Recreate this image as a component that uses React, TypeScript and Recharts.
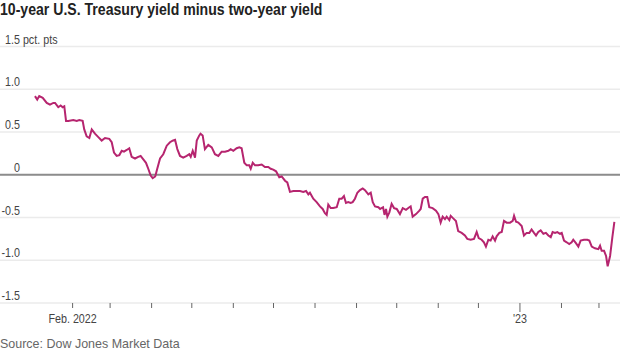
import { LineChart, Line, XAxis, YAxis, CartesianGrid, ReferenceLine } from "recharts";

// days since 2022-01-01 for each reading of the spread
const dayOffsets = [
  2.9, 4.6, 6.1, 8.7, 11.7, 14.1, 16.6, 17.9, 20.3, 22.1, 23.6, 24.8, 26.1, 27.8, 31.5, 34.1, 36.0, 38.5, 39.7, 41.5,
  43.5, 45.3, 47.7, 50.2, 52.7, 55.2, 58.4, 60.2, 61.9, 63.9, 65.9, 67.7, 69.4, 71.4, 73.3, 75.1, 77.6, 80.0, 81.8, 83.8,
  85.8, 87.5, 89.3, 90.8, 92.7, 94.2, 96.3, 98.7, 101.3, 103.7, 105.7, 107.5, 109.2, 111.2, 113.6, 116.2, 118.1, 119.2, 120.7, 121.6,
  122.4, 123.7, 125.6, 126.5, 128.1, 129.8, 132.3, 134.9, 137.3, 139.8, 142.3, 144.8, 147.3, 149.0, 151.0, 153.5, 155.5, 157.2, 159.2, 161.0,
  162.9, 164.0, 165.5, 167.2, 169.6, 172.2, 174.6, 177.1, 178.9, 180.8, 182.9, 185.3, 187.1, 189.6, 191.3, 193.3, 195.8, 198.3, 200.8, 203.2,
  205.3, 207.0, 208.2, 210.7, 213.2, 215.7, 217.7, 219.4, 220.7, 221.9, 223.7, 225.6, 228.2, 230.1, 231.9, 233.6, 235.1, 236.8, 238.6, 240.1,
  241.8, 243.6, 245.6, 247.6, 249.3, 251.8, 253.6, 255.1, 256.8, 259.3, 260.6, 262.8, 263.9, 265.0, 266.0, 267.5, 269.2, 271.0, 273.0, 275.4,
  277.5, 279.9, 282.4, 283.4, 284.9, 287.4, 289.9, 290.9, 292.4, 294.1, 295.8, 297.3, 299.8, 302.3, 304.1, 305.8, 307.3, 309.0, 310.3, 312.3,
  313.3, 315.2, 317.2, 318.9, 321.5, 323.9, 325.7, 328.2, 330.7, 332.7, 334.2, 336.4, 338.1, 339.6, 341.4, 343.1, 344.6, 346.4, 347.6, 349.6,
  351.4, 353.1, 355.1, 357.6, 359.6, 360.6, 362.1, 363.8, 366.3, 368.0, 370.0, 372.0, 373.7, 375.5, 377.0, 378.7, 380.5, 382.5, 384.4, 386.2,
  388.0, 389.4, 391.2, 392.9, 394.9, 396.2, 397.9, 399.9, 401.8, 403.6, 404.8, 406.8, 408.6, 410.3, 412.8, 415.3, 416.8, 418.6, 421.0, 423.5,
  424.8, 426.0, 427.8, 429.3, 430.5, 432.3, 434.0, 435.5,
];

// 10-year minus 2-year yield, percentage points
const spread = [
  0.92, 0.88, 0.92, 0.9, 0.84, 0.82, 0.84, 0.84, 0.79, 0.81, 0.79, 0.8, 0.63, 0.63, 0.64, 0.63, 0.64, 0.63, 0.53, 0.45,
  0.43, 0.53, 0.48, 0.44, 0.4, 0.43, 0.42, 0.38, 0.26, 0.22, 0.23, 0.28, 0.27, 0.29, 0.31, 0.21, 0.19, 0.21, 0.22, 0.18,
  0.14, 0.07, -0.01, -0.04, -0.02, 0.07, 0.19, 0.24, 0.34, 0.38, 0.4, 0.41, 0.3, 0.22, 0.2, 0.22, 0.24, 0.21, 0.28, 0.24,
  0.2, 0.4, 0.46, 0.48, 0.46, 0.3, 0.35, 0.32, 0.24, 0.22, 0.27, 0.27, 0.28, 0.3, 0.28, 0.31, 0.32, 0.31, 0.14, 0.11,
  0.11, 0.07, 0.14, 0.11, 0.11, 0.12, 0.09, 0.09, 0.07, 0.06, 0.04, -0.03, -0.02, -0.07, -0.09, -0.2, -0.19, -0.19, -0.19, -0.2,
  -0.19, -0.23, -0.21, -0.28, -0.32, -0.37, -0.4, -0.45, -0.47, -0.35, -0.39, -0.39, -0.38, -0.28, -0.28, -0.25, -0.33, -0.32, -0.33, -0.32,
  -0.28, -0.21, -0.18, -0.16, -0.18, -0.23, -0.21, -0.32, -0.37, -0.38, -0.4, -0.38, -0.47, -0.4, -0.49, -0.44, -0.34, -0.39, -0.4, -0.46,
  -0.39, -0.41, -0.38, -0.37, -0.49, -0.46, -0.42, -0.4, -0.28, -0.26, -0.26, -0.38, -0.39, -0.42, -0.46, -0.56, -0.49, -0.52, -0.49, -0.53,
  -0.48, -0.51, -0.54, -0.66, -0.68, -0.71, -0.75, -0.76, -0.75, -0.67, -0.74, -0.76, -0.79, -0.84, -0.76, -0.77, -0.72, -0.77, -0.72, -0.68,
  -0.67, -0.54, -0.56, -0.56, -0.54, -0.48, -0.55, -0.56, -0.6, -0.71, -0.68, -0.68, -0.64, -0.68, -0.71, -0.67, -0.65, -0.69, -0.68, -0.71,
  -0.73, -0.67, -0.68, -0.67, -0.69, -0.68, -0.77, -0.79, -0.81, -0.79, -0.76, -0.8, -0.84, -0.77, -0.76, -0.76, -0.77, -0.84, -0.86, -0.87,
  -0.83, -0.89, -0.89, -0.95, -1.07, -0.95, -0.73, -0.55,
];

// month starts (days since 2022-01-01) and their labels
const monthTicks = [31, 59, 90, 120, 151, 181, 212, 243, 273, 304, 334, 365, 396, 424];
const monthLabels = ["Feb. 2022", "", "", "", "", "", "", "", "", "", "", "'23", "", ""];
const yTicks = [-1.5, -1, -0.5, 0, 0.5, 1, 1.5];

const data = dayOffsets.map((day, i) => ({ day, spread: spread[i] }));

const FONT = "'Liberation Sans', Arial, sans-serif";
const NARROW = 0.86;

function YTick(props: any) {
  const { y, payload } = props;
  const v = payload.value;
  if (v === 1.5) {
    return (
      <text transform={`translate(5,${y - 3}) scale(${NARROW},1)`} textAnchor="start" fontSize={12.5} fill="#444" fontFamily={FONT}>
        1.5 pct. pts
      </text>
    );
  }
  return (
    <text transform={`translate(20,${y - 3}) scale(${NARROW},1)`} textAnchor="end" fontSize={12.5} fill="#444" fontFamily={FONT}>
      {v === 0 ? "0" : v.toFixed(1)}
    </text>
  );
}

function XTick(props: any) {
  const { x, y, index } = props;
  const label = monthLabels[index] ?? "";
  const major = label === "'23";
  return (
    <g>
      <line x1={x} x2={x} y1={y} y2={y + (major ? 9 : 5)} stroke="#666" strokeWidth={1} />
      {label && (
        <text transform={`translate(${x},${y + 20}) scale(${NARROW},1)`} textAnchor="middle" fontSize={12.5} fill="#444" fontFamily={FONT}>
          {label}
        </text>
      )}
    </g>
  );
}

export default function App() {
  return (
    <div style={{ position: "absolute", left: 0, top: 0, width: 620, height: 353, background: "#fff" }}>
      <div
        style={{
          position: "absolute",
          left: 0,
          top: 0,
          fontFamily: FONT,
          fontWeight: 700,
          fontSize: 16,
          lineHeight: "20px",
          color: "#222",
          whiteSpace: "nowrap",
          transform: "scaleX(0.88)",
          transformOrigin: "left top",
        }}
      >
        10-year U.S. Treasury yield minus two-year yield
      </div>
      <LineChart width={620} height={353} data={data} margin={{ top: 46.5, right: 0, bottom: 0, left: 0 }}>
        <CartesianGrid vertical={false} stroke="#ebebeb" strokeWidth={1.5} />
        <XAxis
          dataKey="day"
          type="number"
          domain={[-23.2, 439.7]}
          ticks={monthTicks}
          interval={0}
          height={50}
          axisLine={false}
          tickLine={false}
          tickSize={0}
          tickMargin={0}
          tick={<XTick />}
        />
        <YAxis
          type="number"
          domain={[-1.5, 1.5]}
          ticks={yTicks}
          interval={0}
          mirror
          axisLine={false}
          tickLine={false}
          tick={<YTick />}
        />
        <ReferenceLine y={0} stroke="#8c8c8c" strokeWidth={2} />
        <Line
          type="linear"
          dataKey="spread"
          stroke="#b6256f"
          strokeWidth={2}
          dot={false}
          isAnimationActive={false}
        />
      </LineChart>
      <div
        style={{
          position: "absolute",
          left: 0,
          top: 336,
          fontFamily: FONT,
          fontSize: 13,
          lineHeight: "16px",
          color: "#666",
          whiteSpace: "nowrap",
          transform: "scaleX(0.96)",
          transformOrigin: "left top",
        }}
      >
        Source: Dow Jones Market Data
      </div>
    </div>
  );
}
